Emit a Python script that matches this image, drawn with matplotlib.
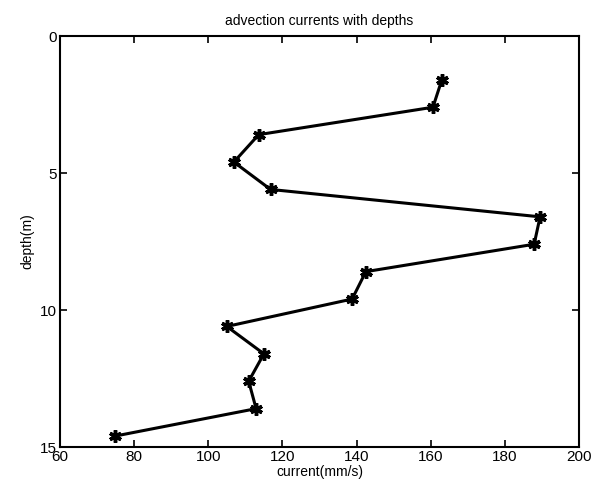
import matplotlib
matplotlib.use("Agg")
import matplotlib.pyplot as plt

current = [163, 160.6, 113.6, 106.9, 116.8, 189.5, 187.9, 142.5, 138.8, 105, 115, 110.9, 112.9, 74.9]
depth = [1.6, 2.6, 3.6, 4.6, 5.6, 6.6, 7.6, 8.6, 9.6, 10.6, 11.6, 12.6, 13.6, 14.6]
xticks = [60, 80, 100, 120, 140, 160, 180, 200]
yticks = [0, 5, 10, 15]

plt.rcParams['font.family'] = ['Liberation Sans', 'DejaVu Sans']

fig = plt.figure(figsize=(6.08, 4.9), dpi=100)
ax = fig.add_axes([60/608, 1-447/490, 519/608, 411/490])
ax.plot(current, depth, color='black', linewidth=2.2,
        marker=(6, 2, 0), markersize=9, markeredgewidth=2.5)
ax.set_xlim(60, 200)
ax.set_ylim(15, 0)
ax.set_xticks(xticks)
ax.set_yticks(yticks)
ax.tick_params(direction='in', top=True, right=True, length=5, width=1.2,
               labelsize=11, pad=2)
for s in ax.spines.values():
    s.set_linewidth(1.5)
ax.set_title('advection currents with depths', fontsize=10, pad=8)
ax.set_xlabel('current(mm/s)', fontsize=10, labelpad=1)
ax.set_ylabel('depth(m)', fontsize=10, labelpad=4)
fig.savefig('out.png', dpi=100)
